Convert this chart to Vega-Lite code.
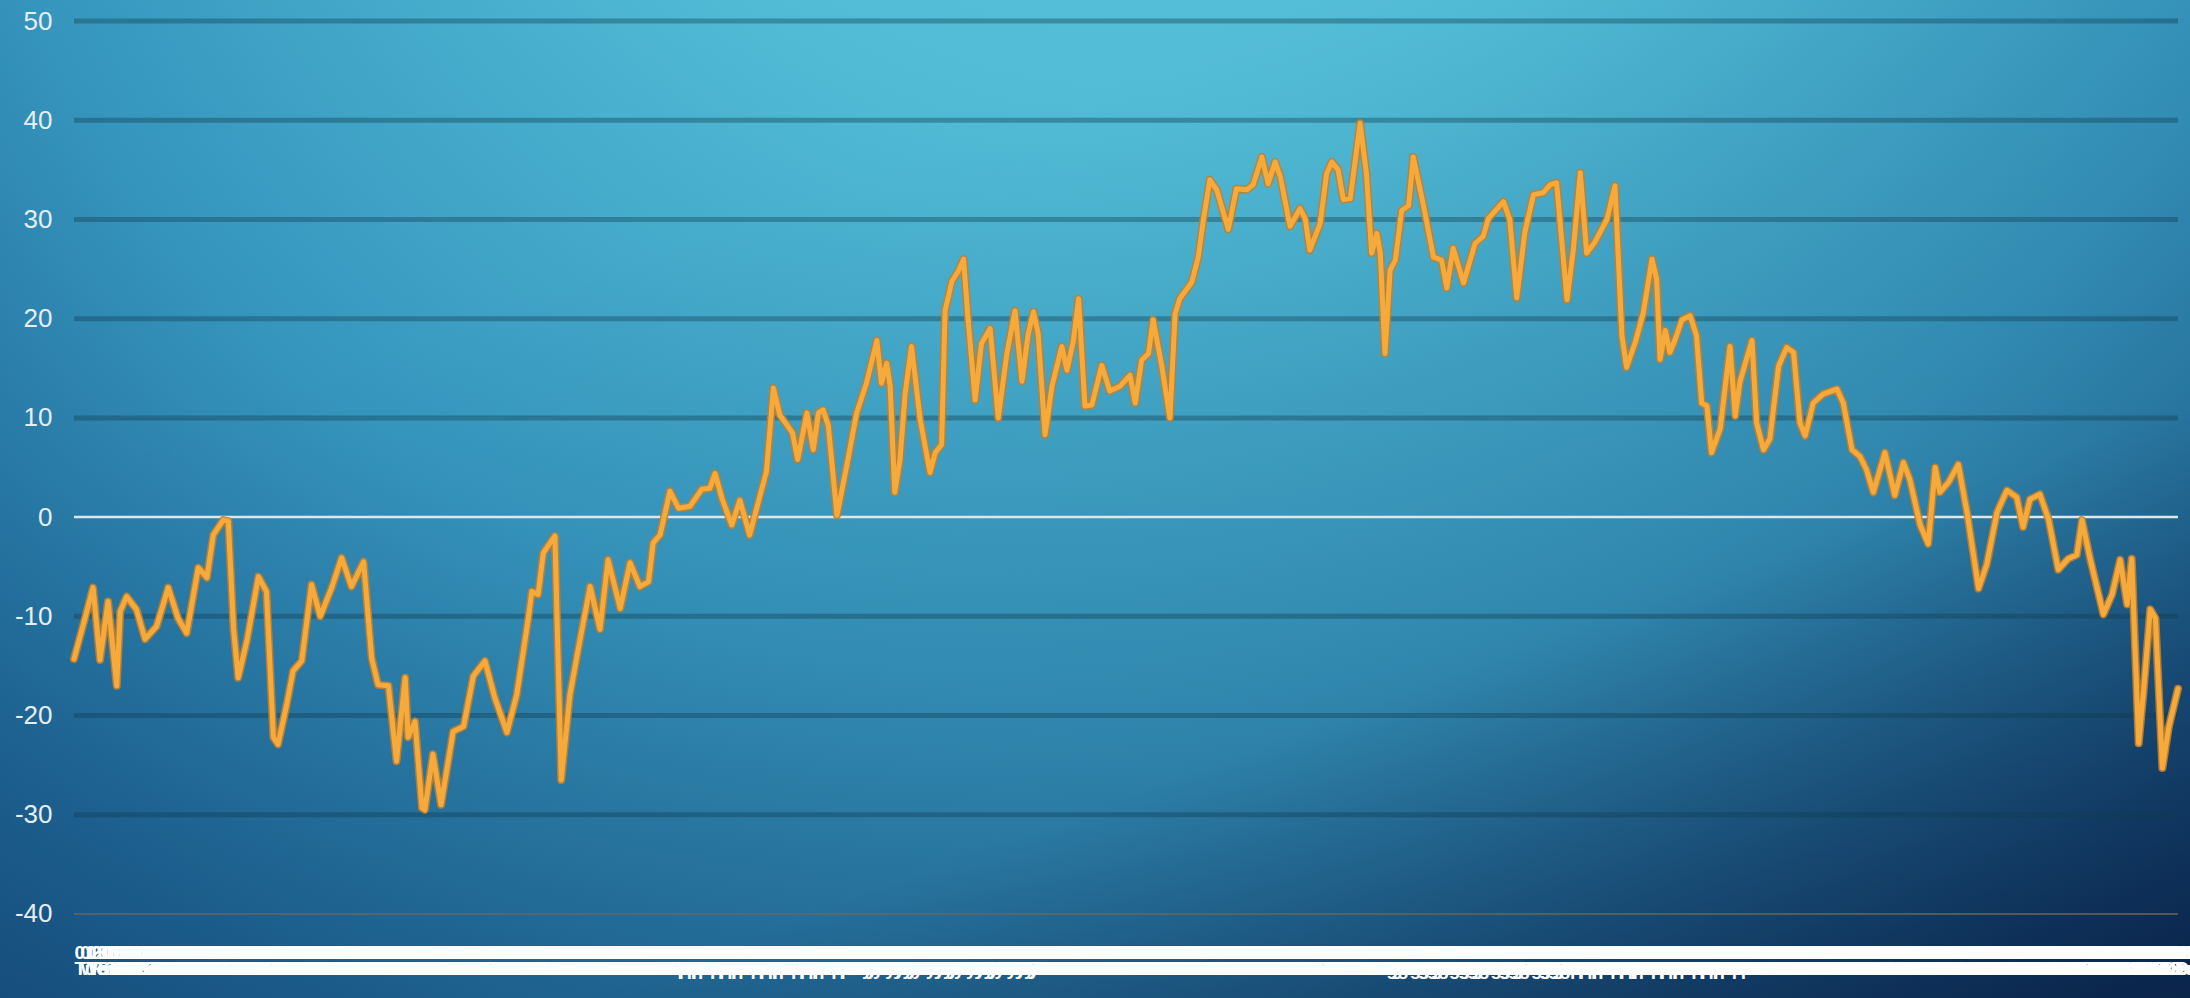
{
  "$schema": "https://vega.github.io/schema/vega-lite/v6.json",
  "width": 2190,
  "height": 998,
  "autosize": "none",
  "padding": 0,
  "background": "#1d5f8c",
  "config": {
    "view": {"stroke": null},
    "axisY": {
      "offset": -74,
      "labelPadding": 22,
      "domain": false,
      "ticks": false,
      "grid": false,
      "labelColor": "#e6eef2",
      "labelFont": "Liberation Sans",
      "labelFontSize": 26,
      "labelAlign": "right",
      "labelBaseline": "middle",
      "title": null
    },
    "axisX": {
      "offset": -58,
      "labelPadding": 3,
      "domain": false,
      "ticks": false,
      "grid": false,
      "labelColor": "#ffffff",
      "labelFont": "Liberation Sans",
      "labelFontSize": 19,
      "labelFontWeight": "bold",
      "labelLineHeight": 16,
      "labelOverlap": false,
      "labelFlush": false,
      "labelBound": false,
      "labelAngle": 0,
      "labelAlign": "left",
      "labelDx": -8,
      "title": null
    }
  },
  "datasets": {
    "temps": [
      {"day": 1.0, "v": -14.3}, {"day": 2.9, "v": -10.2}, {"day": 4.3, "v": -7.1}, {"day": 5.5, "v": -14.4},
      {"day": 6.9, "v": -8.5}, {"day": 8.4, "v": -17.0}, {"day": 9.0, "v": -9.5}, {"day": 10.1, "v": -8.0},
      {"day": 11.8, "v": -9.3}, {"day": 13.3, "v": -12.3}, {"day": 15.3, "v": -11.0}, {"day": 17.3, "v": -7.1},
      {"day": 19.0, "v": -10.2}, {"day": 20.5, "v": -11.7}, {"day": 22.5, "v": -5.1}, {"day": 24.0, "v": -6.1},
      {"day": 25.1, "v": -1.8}, {"day": 26.8, "v": -0.3}, {"day": 27.7, "v": -0.4}, {"day": 28.6, "v": -11.2},
      {"day": 29.4, "v": -16.2}, {"day": 30.9, "v": -12.5}, {"day": 32.9, "v": -6.0}, {"day": 34.3, "v": -7.5},
      {"day": 35.5, "v": -22.2}, {"day": 36.3, "v": -22.9}, {"day": 37.8, "v": -18.9}, {"day": 38.9, "v": -15.5},
      {"day": 40.4, "v": -14.5}, {"day": 42.1, "v": -6.8}, {"day": 43.6, "v": -10.0}, {"day": 45.6, "v": -7.1},
      {"day": 47.3, "v": -4.1}, {"day": 49.0, "v": -7.0}, {"day": 51.1, "v": -4.5}, {"day": 52.5, "v": -14.2},
      {"day": 53.6, "v": -16.9}, {"day": 55.4, "v": -17.0}, {"day": 56.8, "v": -24.6}, {"day": 58.3, "v": -16.2},
      {"day": 58.8, "v": -22.2}, {"day": 60.0, "v": -20.6}, {"day": 61.2, "v": -29.3}, {"day": 61.7, "v": -29.5},
      {"day": 63.1, "v": -23.9}, {"day": 64.5, "v": -29.0}, {"day": 66.6, "v": -21.6}, {"day": 68.4, "v": -21.1},
      {"day": 70.1, "v": -16.0}, {"day": 72.1, "v": -14.5}, {"day": 73.8, "v": -18.2}, {"day": 75.9, "v": -21.7},
      {"day": 77.6, "v": -17.9}, {"day": 79.6, "v": -10.2}, {"day": 80.2, "v": -7.5}, {"day": 81.3, "v": -7.8},
      {"day": 82.2, "v": -3.6}, {"day": 84.2, "v": -1.9}, {"day": 85.3, "v": -26.5}, {"day": 86.8, "v": -17.9},
      {"day": 88.5, "v": -12.5}, {"day": 90.3, "v": -7.0}, {"day": 92.0, "v": -11.3}, {"day": 93.4, "v": -4.3},
      {"day": 95.5, "v": -9.2}, {"day": 97.2, "v": -4.6}, {"day": 98.9, "v": -7.0}, {"day": 100.4, "v": -6.5},
      {"day": 101.2, "v": -2.6}, {"day": 102.4, "v": -1.8}, {"day": 104.1, "v": 2.6}, {"day": 105.6, "v": 0.9},
      {"day": 107.6, "v": 1.1}, {"day": 109.6, "v": 2.8}, {"day": 111.0, "v": 2.9}, {"day": 111.9, "v": 4.4},
      {"day": 113.1, "v": 1.9}, {"day": 114.8, "v": -0.8}, {"day": 116.2, "v": 1.7}, {"day": 117.9, "v": -1.8},
      {"day": 119.7, "v": 2.2}, {"day": 120.8, "v": 4.6}, {"day": 122.0, "v": 13.0}, {"day": 123.1, "v": 10.3},
      {"day": 125.3, "v": 8.5}, {"day": 126.2, "v": 5.8}, {"day": 127.8, "v": 10.5}, {"day": 128.9, "v": 6.8},
      {"day": 129.8, "v": 10.5}, {"day": 130.6, "v": 10.8}, {"day": 131.5, "v": 9.2}, {"day": 133.0, "v": 0.2},
      {"day": 134.7, "v": 5.2}, {"day": 136.4, "v": 10.5}, {"day": 138.1, "v": 13.5}, {"day": 139.9, "v": 17.8},
      {"day": 140.7, "v": 13.5}, {"day": 141.6, "v": 15.5}, {"day": 142.2, "v": 13.2}, {"day": 143.0, "v": 2.5},
      {"day": 143.9, "v": 5.8}, {"day": 144.8, "v": 12.5}, {"day": 145.9, "v": 17.2}, {"day": 147.4, "v": 9.8},
      {"day": 149.1, "v": 4.5}, {"day": 150.0, "v": 6.5}, {"day": 151.1, "v": 7.3}, {"day": 151.7, "v": 20.8},
      {"day": 152.9, "v": 23.8}, {"day": 154.0, "v": 24.8}, {"day": 154.9, "v": 26.0}, {"day": 155.7, "v": 19.8},
      {"day": 156.9, "v": 11.8}, {"day": 158.0, "v": 17.5}, {"day": 159.5, "v": 19.0}, {"day": 160.9, "v": 10.0},
      {"day": 162.4, "v": 16.5}, {"day": 163.8, "v": 20.8}, {"day": 165.0, "v": 13.7}, {"day": 166.1, "v": 18.5},
      {"day": 167.0, "v": 20.7}, {"day": 167.8, "v": 18.5}, {"day": 169.0, "v": 8.3}, {"day": 170.2, "v": 13.2},
      {"day": 171.9, "v": 17.2}, {"day": 172.8, "v": 14.8}, {"day": 173.9, "v": 17.8}, {"day": 174.8, "v": 22.0},
      {"day": 175.9, "v": 11.2}, {"day": 177.1, "v": 11.3}, {"day": 178.8, "v": 15.3}, {"day": 180.2, "v": 12.7},
      {"day": 182.0, "v": 13.2}, {"day": 183.7, "v": 14.3}, {"day": 184.6, "v": 11.5}, {"day": 185.7, "v": 15.8},
      {"day": 186.9, "v": 16.5}, {"day": 187.7, "v": 19.9}, {"day": 189.2, "v": 15.2}, {"day": 190.6, "v": 10.0},
      {"day": 191.5, "v": 20.5}, {"day": 192.3, "v": 22.0}, {"day": 194.4, "v": 23.7}, {"day": 195.5, "v": 26.2},
      {"day": 196.4, "v": 30.0}, {"day": 197.5, "v": 34.0}, {"day": 198.7, "v": 33.0}, {"day": 200.7, "v": 29.0},
      {"day": 202.1, "v": 33.1}, {"day": 203.9, "v": 33.0}, {"day": 205.0, "v": 33.5}, {"day": 206.5, "v": 36.3},
      {"day": 207.6, "v": 33.6}, {"day": 208.8, "v": 35.8}, {"day": 209.7, "v": 34.3}, {"day": 211.4, "v": 29.3},
      {"day": 213.1, "v": 31.1}, {"day": 214.0, "v": 30.1}, {"day": 214.8, "v": 26.9}, {"day": 216.6, "v": 29.6},
      {"day": 217.7, "v": 34.6}, {"day": 218.6, "v": 35.8}, {"day": 219.7, "v": 35.0}, {"day": 220.6, "v": 32.0},
      {"day": 221.8, "v": 32.1}, {"day": 223.5, "v": 39.7}, {"day": 224.6, "v": 34.6}, {"day": 225.5, "v": 26.6},
      {"day": 226.4, "v": 28.6}, {"day": 227.0, "v": 26.6}, {"day": 227.8, "v": 16.5}, {"day": 228.7, "v": 24.9},
      {"day": 229.6, "v": 25.9}, {"day": 230.7, "v": 30.9}, {"day": 231.9, "v": 31.4}, {"day": 232.7, "v": 36.3},
      {"day": 234.4, "v": 31.6}, {"day": 236.2, "v": 26.2}, {"day": 237.6, "v": 25.9}, {"day": 238.5, "v": 23.1},
      {"day": 239.6, "v": 27.1}, {"day": 241.4, "v": 23.6}, {"day": 243.4, "v": 27.6}, {"day": 244.8, "v": 28.3},
      {"day": 245.7, "v": 30.1}, {"day": 248.3, "v": 31.8}, {"day": 249.4, "v": 30.0}, {"day": 250.6, "v": 22.1},
      {"day": 252.0, "v": 28.7}, {"day": 253.5, "v": 32.5}, {"day": 255.2, "v": 32.7}, {"day": 256.4, "v": 33.5},
      {"day": 257.5, "v": 33.7}, {"day": 259.3, "v": 21.9}, {"day": 260.4, "v": 27.0}, {"day": 261.6, "v": 34.7},
      {"day": 262.7, "v": 26.6}, {"day": 264.1, "v": 27.7}, {"day": 266.2, "v": 30.0}, {"day": 267.6, "v": 33.4},
      {"day": 268.8, "v": 18.3}, {"day": 269.6, "v": 15.1}, {"day": 271.1, "v": 17.6}, {"day": 272.5, "v": 20.6},
      {"day": 274.0, "v": 26.0}, {"day": 274.8, "v": 24.0}, {"day": 275.4, "v": 15.9}, {"day": 276.3, "v": 18.8},
      {"day": 277.1, "v": 16.6}, {"day": 278.0, "v": 17.9}, {"day": 279.2, "v": 19.9}, {"day": 280.6, "v": 20.3},
      {"day": 281.7, "v": 18.3}, {"day": 282.6, "v": 11.5}, {"day": 283.5, "v": 11.2}, {"day": 284.3, "v": 6.5},
      {"day": 285.8, "v": 8.9}, {"day": 287.5, "v": 17.2}, {"day": 288.4, "v": 10.2}, {"day": 289.2, "v": 13.6},
      {"day": 291.3, "v": 17.8}, {"day": 292.1, "v": 9.5}, {"day": 293.3, "v": 6.8}, {"day": 294.4, "v": 7.9},
      {"day": 295.9, "v": 15.2}, {"day": 297.3, "v": 17.1}, {"day": 298.5, "v": 16.6}, {"day": 299.6, "v": 9.5},
      {"day": 300.5, "v": 8.2}, {"day": 301.9, "v": 11.5}, {"day": 303.6, "v": 12.4}, {"day": 306.0, "v": 12.9},
      {"day": 307.1, "v": 11.5}, {"day": 308.6, "v": 6.8}, {"day": 310.0, "v": 6.1}, {"day": 311.1, "v": 4.8},
      {"day": 312.3, "v": 2.5}, {"day": 314.3, "v": 6.5}, {"day": 316.0, "v": 2.2}, {"day": 317.5, "v": 5.5},
      {"day": 318.6, "v": 3.8}, {"day": 320.4, "v": -0.8}, {"day": 321.8, "v": -2.7}, {"day": 323.0, "v": 5.0},
      {"day": 323.8, "v": 2.5}, {"day": 325.3, "v": 3.5}, {"day": 327.0, "v": 5.3}, {"day": 328.5, "v": 0.5},
      {"day": 330.5, "v": -7.2}, {"day": 331.9, "v": -4.8}, {"day": 333.7, "v": 0.5}, {"day": 335.4, "v": 2.7},
      {"day": 337.1, "v": 2.0}, {"day": 338.2, "v": -1.0}, {"day": 339.4, "v": 1.8}, {"day": 341.1, "v": 2.3},
      {"day": 342.6, "v": -0.2}, {"day": 344.3, "v": -5.3}, {"day": 346.0, "v": -4.2}, {"day": 347.5, "v": -3.8},
      {"day": 348.4, "v": -0.3}, {"day": 349.8, "v": -4.2}, {"day": 352.1, "v": -9.8}, {"day": 353.6, "v": -7.8},
      {"day": 355.0, "v": -4.3}, {"day": 356.2, "v": -8.8}, {"day": 357.0, "v": -4.2}, {"day": 358.2, "v": -22.8},
      {"day": 359.1, "v": -17.2}, {"day": 360.2, "v": -9.3}, {"day": 361.1, "v": -10.2}, {"day": 362.3, "v": -25.3},
      {"day": 363.4, "v": -21.2}, {"day": 365.0, "v": -17.3}
    ],
    "grid": [
      {"v": 50}, {"v": 40}, {"v": 30}, {"v": 20}, {"v": 10}, {"v": 0},
      {"v": -10}, {"v": -20}, {"v": -30}, {"v": -40}
    ]
  },
  "layer": [
    {
      "data": {"values": [{}]},
      "mark": {
        "type": "rect",
        "fill": {
          "gradient": "radial",
          "x1": 0.52, "y1": 0.04, "r1": 0,
          "x2": 0.52, "y2": 0.04, "r2": 1.0,
          "stops": [
            {"offset": 0, "color": "#66cbe0"},
            {"offset": 0.3, "color": "#50bad5"},
            {"offset": 0.55, "color": "#3696be"},
            {"offset": 0.78, "color": "#1d6292"},
            {"offset": 1, "color": "#0f3a6a"}
          ]
        }
      },
      "encoding": {}
    },
    {
      "data": {"values": [{}]},
      "mark": {
        "type": "rect",
        "fill": {
          "gradient": "linear",
          "x1": 0.35, "y1": 0.2, "x2": 1, "y2": 1,
          "stops": [
            {"offset": 0, "color": "rgba(6,22,58,0)"},
            {"offset": 0.55, "color": "rgba(6,22,58,0.12)"},
            {"offset": 1, "color": "rgba(6,22,58,0.8)"}
          ]
        }
      },
      "encoding": {}
    },
    {
      "data": {"name": "grid"},
      "mark": {"type": "rule"},
      "encoding": {
        "y": {
          "field": "v", "type": "quantitative",
          "scale": {"domain": [-48.47, 52.12], "nice": false, "zero": false},
          "axis": {"zindex": 3, "values": [-40, -30, -20, -10, 0, 10, 20, 30, 40, 50], "labelExpr": "'' + datum.value"}
        },
        "x": {
          "datum": 1, "type": "quantitative",
          "scale": {"domain": [-11.8, 367.08], "nice": false, "zero": false},
          "axis": {"zindex": 3, "tickCount": 380, "labelExpr": "datum.value < 1 || datum.value > 354 ? '' : [timeFormat(datetime(2019, 0, datum.value), '%d.%m.%Y'), timeFormat(datetime(2019, 0, datum.value), '%a %d %b')]"}
        },
        "x2": {"datum": 365},
        "color": {
          "condition": [
            {"test": "datum.v == 0", "value": "#dce8ec"},
            {"test": "datum.v <= -40", "value": "#6e6650"}
          ],
          "value": "rgba(15,60,80,0.38)"
        },
        "strokeWidth": {
          "condition": [
            {"test": "datum.v == 0", "value": 2.5},
            {"test": "datum.v <= -40", "value": 1.6}
          ],
          "value": 5
        }
      }
    },
    {
      "data": {"name": "temps"},
      "mark": {"type": "line", "color": "#c27f2c", "strokeWidth": 8, "strokeJoin": "round", "strokeCap": "round", "opacity": 0.9},
      "encoding": {
        "x": {"field": "day", "type": "quantitative", "axis": {"zindex": 3, "tickCount": 380, "labelExpr": "datum.value < 1 || datum.value > 354 ? '' : [timeFormat(datetime(2019, 0, datum.value), '%d.%m.%Y'), timeFormat(datetime(2019, 0, datum.value), '%a %d %b')]"}},
        "y": {"field": "v", "type": "quantitative", "axis": {"zindex": 3, "values": [-40, -30, -20, -10, 0, 10, 20, 30, 40, 50], "labelExpr": "'' + datum.value"}}
      }
    },
    {
      "data": {"name": "temps"},
      "mark": {"type": "line", "color": "#f7aa3c", "strokeWidth": 5, "strokeJoin": "round", "strokeCap": "round"},
      "encoding": {
        "x": {"field": "day", "type": "quantitative", "axis": {"zindex": 3, "tickCount": 380, "labelExpr": "datum.value < 1 || datum.value > 354 ? '' : [timeFormat(datetime(2019, 0, datum.value), '%d.%m.%Y'), timeFormat(datetime(2019, 0, datum.value), '%a %d %b')]"}},
        "y": {"field": "v", "type": "quantitative", "axis": {"zindex": 3, "values": [-40, -30, -20, -10, 0, 10, 20, 30, 40, 50], "labelExpr": "'' + datum.value"}}
      }
    }
  ]
}
